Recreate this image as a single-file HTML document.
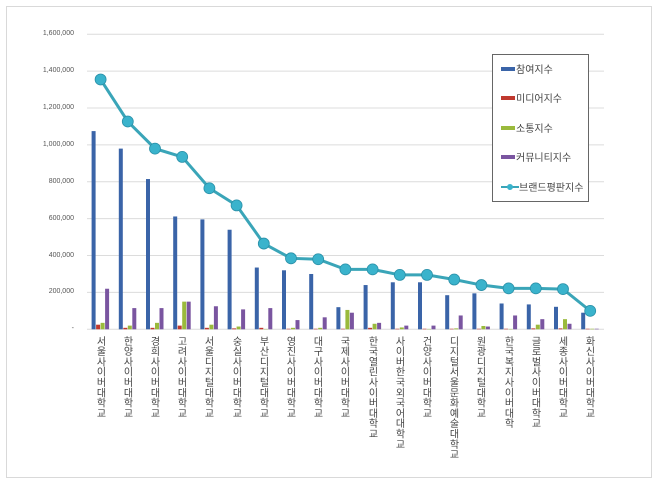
<!DOCTYPE html>
<html><head><meta charset="utf-8"><style>
body{margin:0;width:660px;height:485px;background:#fff;position:relative;overflow:hidden;font-family:"Liberation Sans","Noto Sans CJK KR",sans-serif}
#frame{position:absolute;left:6px;top:6px;width:646px;height:472px;border:1px solid #d9d9d9;box-sizing:border-box}
.yl{position:absolute;right:586px;font-size:7px;color:#555;line-height:8px}
.xl{position:absolute;top:336px;width:12px;writing-mode:vertical-lr;text-orientation:upright;font-size:10px;letter-spacing:0.3px;color:#444;font-family:"Noto Sans CJK KR","Liberation Sans",sans-serif;line-height:12px}
#legend{position:absolute;left:492px;top:54px;width:97px;height:148px;border:1px solid #666;box-sizing:border-box;background:#fff;font-family:"Noto Sans CJK KR",sans-serif;font-size:10px;color:#444}
.li{position:absolute;left:8px;height:12px;line-height:12px}
.sw{display:inline-block;width:14px;height:4px;vertical-align:middle;margin-right:1px;margin-top:-2px}
</style></head><body>
<div id="frame"></div>
<svg id="s" width="660" height="485" style="position:absolute;left:0;top:0"></svg>
<div class="yl" style="top:30px">1,600,000</div>
<div class="yl" style="top:67px">1,400,000</div>
<div class="yl" style="top:104px">1,200,000</div>
<div class="yl" style="top:141px">1,000,000</div>
<div class="yl" style="top:178px">800,000</div>
<div class="yl" style="top:215px">600,000</div>
<div class="yl" style="top:252px">400,000</div>
<div class="yl" style="top:288px">200,000</div>
<div class="yl" style="top:325px">-</div>
<div class="xl" style="left:95px">서울사이버대학교</div>
<div class="xl" style="left:122px">한양사이버대학교</div>
<div class="xl" style="left:149px">경희사이버대학교</div>
<div class="xl" style="left:176px">고려사이버대학교</div>
<div class="xl" style="left:203px">서울디지털대학교</div>
<div class="xl" style="left:231px">숭실사이버대학교</div>
<div class="xl" style="left:258px">부산디지털대학교</div>
<div class="xl" style="left:285px">영진사이버대학교</div>
<div class="xl" style="left:312px">대구사이버대학교</div>
<div class="xl" style="left:339px">국제사이버대학교</div>
<div class="xl" style="left:367px">한국열린사이버대학교</div>
<div class="xl" style="left:394px">사이버한국외국어대학교</div>
<div class="xl" style="left:421px">건양사이버대학교</div>
<div class="xl" style="left:448px">디지털서울문화예술대학교</div>
<div class="xl" style="left:475px">원광디지털대학교</div>
<div class="xl" style="left:503px">한국복지사이버대학</div>
<div class="xl" style="left:530px">글로벌사이버대학교</div>
<div class="xl" style="left:557px">세종사이버대학교</div>
<div class="xl" style="left:584px">화신사이버대학교</div>
<div id="legend">
<div class="li" style="top:8px"><span class="sw" style="background:#3a64a8"></span>참여지수</div>
<div class="li" style="top:37px"><span class="sw" style="background:#c0392f"></span>미디어지수</div>
<div class="li" style="top:67px"><span class="sw" style="background:#9aba3c"></span>소통지수</div>
<div class="li" style="top:96px"><span class="sw" style="background:#7a55a0"></span>커뮤니티지수</div>
<div class="li" style="top:126px"><svg width="18" height="8" style="vertical-align:middle;margin-top:-2px"><line x1="0" y1="4" x2="18" y2="4" stroke="#3aa5b8" stroke-width="2"/><circle cx="9" cy="4" r="3" fill="#3ab3cc"/></svg>브랜드평판지수</div>
</div>
<script>
var s=document.getElementById('s'),NS='http://www.w3.org/2000/svg';
function el(t,a){var e=document.createElementNS(NS,t);for(var k in a)e.setAttribute(k,a[k]);s.appendChild(e);return e;}
function Y(v){return 329.3-v*295/1600000;}
for(var g=0;g<=8;g++){var y=Y(g*200000);el('line',{x1:87,x2:604,y1:y,y2:y,stroke:'#dcdcdc','stroke-width':1});}
var A=[1075,980,815,612,596,540,335,320,300,120,240,255,255,185,195,140,135,122,90];
var M=[25,8,8,20,8,5,8,3,3,3,8,3,3,3,3,3,5,5,3];
var C=[35,20,35,150,25,15,2,8,8,105,30,10,2,5,18,2,25,55,3];
var U=[220,115,115,150,125,108,115,50,65,90,35,20,20,75,15,75,55,30,3];
var L=[1355,1127,980,935,765,672,465,385,380,325,325,295,295,270,240,222,222,218,100];
var cols=['#3a64a8','#c0392f','#9aba3c','#7a55a0'],off=[-9,-4.5,0,4.5],D=[A,M,C,U];
var pts=[];
for(var i=0;i<19;i++){var cx=100.6+i*27.2;
for(var k=0;k<4;k++){var v=D[k][i]*1000,y=Y(v);el('rect',{x:cx+off[k],y:y,width:4,height:329.3-y,fill:cols[k]});}
pts.push(cx+','+Y(L[i]*1000));}
el('polyline',{points:pts.join(' '),fill:'none',stroke:'#3aa5b8','stroke-width':3});
for(var i=0;i<19;i++){var p=pts[i].split(',');el('circle',{cx:p[0],cy:p[1],r:5.5,fill:'#3ab3cc',stroke:'#2a90a8','stroke-width':0.8});}
</script>
</body></html>
